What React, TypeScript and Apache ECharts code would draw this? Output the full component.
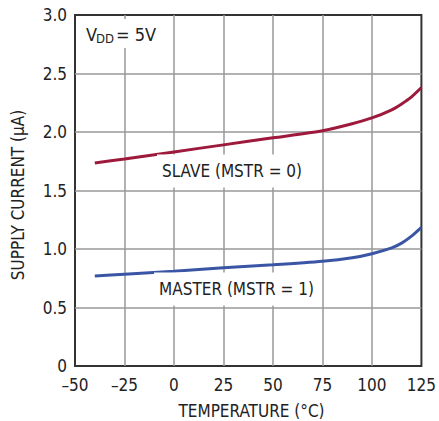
import React, { useEffect, useRef } from "react";
import * as echarts from "echarts";

const temps = [-40, -25, 0, 25, 50, 75, 90, 100, 110, 115, 120, 125];
const slaveCurrent = [1.735, 1.77, 1.83, 1.89, 1.95, 2.01, 2.07, 2.12, 2.19, 2.24, 2.3, 2.38];
const masterCurrent = [0.77, 0.785, 0.81, 0.84, 0.865, 0.895, 0.925, 0.96, 1.01, 1.05, 1.11, 1.185];
const slaveLabel = "SLAVE (MSTR = 0)";
const masterLabel = "MASTER (MSTR = 1)";
const xTitle = "TEMPERATURE (°C)";
const yTitle = "SUPPLY CURRENT (µA)";

const FONT = '"Liberation Sans Narrow", "DejaVu Sans Condensed", "Liberation Sans", sans-serif';
const TXT = "#222";

export default function App() {
  const ref = useRef<HTMLDivElement>(null);
  useEffect(() => {
    document.body.style.margin = "0";
    const chart = echarts.init(ref.current!, undefined, { renderer: "svg" });
    const font = (s: number) => `${s}px ${FONT}`;
    chart.setOption({
      animation: false,
      backgroundColor: "#fff",
      grid: {
        left: 75,
        right: 12,
        top: 15,
        bottom: 55,
        show: true,
        borderColor: "#333",
        borderWidth: 2,
        backgroundColor: "transparent",
      },
      xAxis: {
        type: "value",
        min: -50,
        max: 125,
        interval: 25,
        axisLine: { show: false },
        axisTick: { show: false },
        splitLine: { show: true, showMinLine: false, showMaxLine: false, lineStyle: { color: "#999", width: 1.5 } },
        axisLabel: {
          color: TXT,
          fontFamily: FONT,
          fontSize: 17,
          margin: 10,
          formatter: (v: number) => (v < 0 ? "–" + Math.abs(v) : String(v)),
        },
      },
      yAxis: {
        type: "value",
        min: 0,
        max: 3,
        interval: 0.5,
        axisLine: { show: false },
        axisTick: { show: false },
        splitLine: { show: true, showMinLine: false, showMaxLine: false, lineStyle: { color: "#999", width: 1.5 } },
        axisLabel: {
          color: TXT,
          fontFamily: FONT,
          fontSize: 17,
          margin: 8,
          formatter: (v: number) => (v === 0 ? "0" : v.toFixed(1)),
        },
      },
      series: [
        {
          type: "line",
          data: temps.map((t, i) => [t, slaveCurrent[i]]),
          smooth: 0.25,
          symbol: "none",
          lineStyle: { color: "#9e1a3c", width: 3 },
          z: 5,
        },
        {
          type: "line",
          data: temps.map((t, i) => [t, masterCurrent[i]]),
          smooth: 0.25,
          symbol: "none",
          lineStyle: { color: "#3b55a5", width: 3 },
          z: 5,
        },
      ],
      graphic: [
        { type: "rect", shape: { x: 80, y: 19, width: 80, height: 29 }, style: { fill: "#fff" }, z: 10 },
        { type: "text", x: 86, y: 34, style: { text: "V", font: font(18), fill: TXT, textVerticalAlign: "middle" }, z: 11 },
        { type: "text", x: 96, y: 38.5, style: { text: "DD", font: font(13), fill: TXT, textVerticalAlign: "middle" }, z: 11 },
        { type: "text", x: 116, y: 34, style: { text: "= 5V", font: font(18), fill: TXT, textVerticalAlign: "middle" }, z: 11 },
        {
          type: "text", x: 232, y: 171,
          style: { text: slaveLabel, font: font(17), fill: TXT, align: "center", verticalAlign: "middle", backgroundColor: "#fff", padding: [8, 5] },
          z: 11,
        },
        {
          type: "text", x: 236.5, y: 289,
          style: { text: masterLabel, font: font(17), fill: TXT, align: "center", verticalAlign: "middle", backgroundColor: "#fff", padding: [8, 5] },
          z: 11,
        },
        {
          type: "text", x: 251.5, y: 411,
          style: { text: xTitle, font: font(17), fill: TXT, align: "center", verticalAlign: "middle" },
        },
        {
          type: "text", x: 18, y: 195, rotation: Math.PI / 2,
          style: { text: yTitle, font: font(17), fill: TXT, align: "center", verticalAlign: "middle" },
        },
      ],
    });
    return () => chart.dispose();
  }, []);
  return <div ref={ref} style={{ width: 439, height: 421 }} />;
}
